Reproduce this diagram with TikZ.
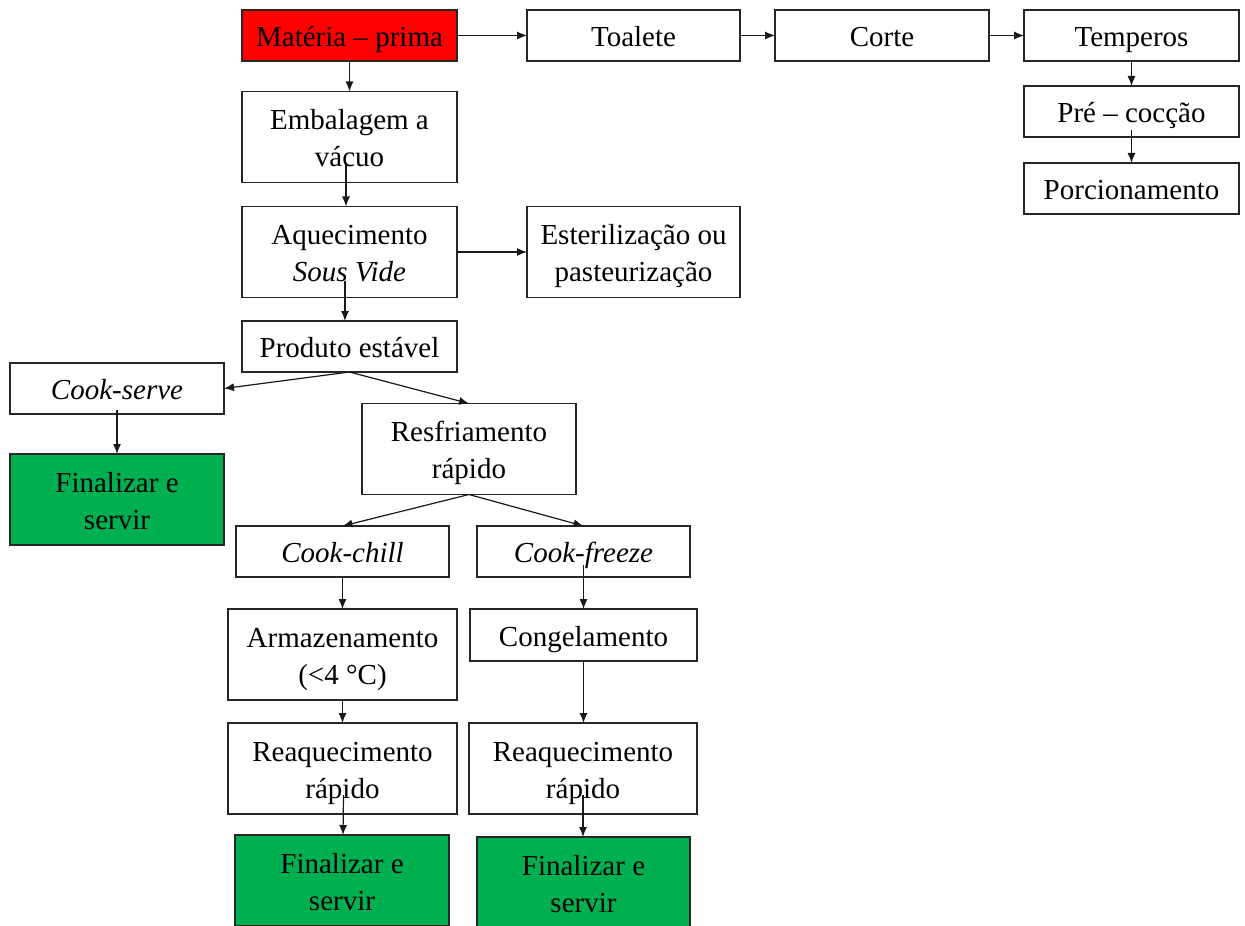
\documentclass[tikz,border=0pt]{standalone}
\usepackage{fontspec}
\setmainfont{Liberation Serif}
\usetikzlibrary{arrows.meta}
\definecolor{mpred}{RGB}{255,0,0}
\definecolor{fingreen}{RGB}{0,176,80}
\tikzset{
  box/.style={draw=black!85, line width=0.8pt, inner sep=0pt, outer sep=0pt, align=center,
    font=\fontsize{14.5}{18.5}\selectfont},
  one/.style={box, minimum height=25.5pt, text height=11pt, text depth=0pt},
  two/.style={box, minimum height=45.5pt, text height=29.5pt, text depth=0pt},
  arr/.style={->, line width=0.6pt, draw=black!90},
  >={Latex[length=5pt,width=4pt]}
}
\begin{document}
\begin{tikzpicture}[x=0.5pt,y=-0.5pt]
        \useasboundingbox (0,0) rectangle (1245,925);
        \node[one, fill=mpred, minimum width=107.5pt] (mp) at (349.5,35.5) {Matéria -- prima};
        \node[one, minimum width=106.5pt] (toa) at (633.5,35.5) {Toalete};
        \node[one, minimum width=107pt] (cor) at (882,35.5) {Corte};
        \node[one, minimum width=107.5pt] (tem) at (1131.5,35.5) {Temperos};
        \node[one, minimum width=107.5pt] (pre) at (1131.5,111.5) {Pré -- cocção};
        \node[one, minimum width=107.5pt] (por) at (1131.5,188.5) {Porcionamento};
        \node[two, minimum width=107.5pt] (emb) at (349.5,137) {Embalagem a\\vácuo};
        \node[two, minimum width=107.5pt] (aq) at (349.5,252) {Aquecimento\\\textit{Sous Vide}};
        \node[two, minimum width=106.5pt] (est) at (633.5,252) {Esterilização ou\\pasteurização};
        \node[one, minimum width=107.5pt] (prod) at (349.5,346.5) {Produto estável};
        \node[one, minimum width=107pt] (cs) at (117,388.5) {\textit{Cook-serve}};
        \node[two, fill=fingreen, minimum width=107pt] (fin1) at (117,499.5) {Finalizar e\\servir};
        \node[two, minimum width=107pt] (res) at (469,449) {Resfriamento\\rápido};
        \node[one, minimum width=106.5pt] (cc) at (342.5,551.5) {\textit{Cook-chill}};
        \node[one, minimum width=106.5pt] (cf) at (583.5,551.5) {\textit{Cook-freeze}};
        \node[two, minimum width=114.5pt] (arm) at (342.5,654.5) {Armazenamento\\(<4 °C)};
        \node[one, minimum width=113.5pt, minimum height=26pt] (con) at (583.5,635) {Congelamento};
        \node[two, minimum width=114.5pt] (rea1) at (342.5,768.5) {Reaquecimento\\rápido};
        \node[two, minimum width=114pt] (rea2) at (583,768.5) {Reaquecimento\\rápido};
        \node[two, fill=fingreen, minimum width=107pt] (fin2) at (342,880.5) {Finalizar e\\servir};
        \node[two, fill=fingreen, minimum width=106.5pt] (fin3) at (583.5,882.5) {Finalizar e\\servir};
        % setas
        \draw[arr] (mp) -- (toa);
        \draw[arr] (toa) -- (cor);
        \draw[arr] (cor) -- (tem);
        \draw[arr] (tem) -- (pre);
        \draw[arr] ([yshift=3.5pt]pre.south) -- (por.north);
        \draw[arr] (mp) -- (emb);
        \draw[arr] ([xshift=-1.75pt,yshift=8.5pt]emb.south) -- ([xshift=-1.75pt]aq.north);
        \draw[arr] ([xshift=-2.25pt,yshift=8.5pt]aq.south) -- ([xshift=-2.25pt]prod.north);
        \draw[arr] (aq) -- (est);
        \draw[arr] (prod.south) -- (cs.east);
        \draw[arr] (prod.south) -- (res.north);
        \draw[arr] ([yshift=2pt]cs.south) -- (fin1.north);
        \draw[arr] (res.south) -- (cc.north);
        \draw[arr] (res.south) -- (cf.north);
        \draw[arr] (cc) -- (arm);
        \draw[arr] ([yshift=6pt]cf.south) -- (con.north);
        \draw[arr] (arm) -- (rea1);
        \draw[arr] (con.south) -- (rea2.north -| con.south);
        \draw[arr] ([xshift=0.5pt,yshift=9.5pt]rea1.south) -- ([xshift=0.5pt]fin2.north);
        \draw[arr] ([yshift=9.5pt]rea2.south) -- (fin3.north -| rea2.south);
    \end{tikzpicture}
\end{document}
